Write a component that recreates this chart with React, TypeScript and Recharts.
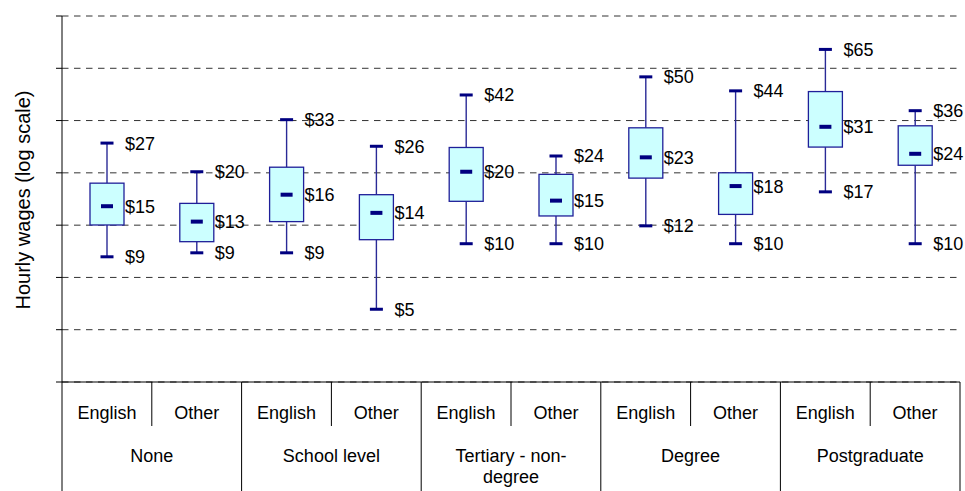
import { ComposedChart, Bar, XAxis, YAxis, CartesianGrid } from 'recharts'

// education groups and language spoken at home
const groups = ['None', 'School level', 'Tertiary - non-degree', 'Degree', 'Postgraduate']
const languages = ['English', 'Other']

// hourly wages ($), one entry per group x language
const minWage = [9.0, 9.35, 9.35, 5.45, 10.2, 10.2, 12.1, 10.2, 16.75, 10.2]
const q1Wage = [12.2, 10.4, 12.6, 10.6, 15.3, 13.3, 19.1, 13.5, 25.7, 21.6]
const medianWage = [14.6, 12.6, 16.3, 13.7, 20.3, 15.4, 23.3, 17.7, 31.2, 24.1]
const q3Wage = [18.2, 15.0, 21.2, 16.3, 25.6, 19.8, 30.9, 20.1, 43.7, 31.5]
const maxWage = [26.7, 20.3, 33.4, 25.9, 42.3, 23.6, 50.3, 44.0, 65.4, 36.4]

// gridlines every 0.5 of ln(wage), from 1.0 to 4.5
const yTicks = [2.718, 4.482, 7.389, 12.18, 20.09, 33.12, 54.6, 90.02]

const rows = groups.flatMap((group, gi) =>
  languages.map((lang, li) => {
    const i = gi * 2 + li
    return {
      key: `${group}-${lang}`,
      group,
      lang,
      min: minWage[i],
      q1: q1Wage[i],
      median: medianWage[i],
      q3: q3Wage[i],
      max: maxWage[i],
    }
  })
)

const W = 965
const H = 491
const MARGIN = { top: 16, right: 5, bottom: 0, left: 0 }
const Y_AXIS_W = 62
const X_AXIS_H = 109
const AXIS_Y = H - MARGIN.bottom - X_AXIS_H
const BAND = (W - MARGIN.left - MARGIN.right - Y_AXIS_W) / rows.length
const FONT = '"Liberation Sans", Arial, sans-serif'

const wrapGroup = (s: string) => {
  if (s.length <= 14) return [s]
  const cut = s.lastIndexOf('-') + 1
  return [s.slice(0, cut), s.slice(cut)]
}

function BoxShape(props: any) {
  const { x, y, width, height, payload } = props
  const top = Math.min(y, y + height)
  const bot = Math.max(y, y + height)
  const lo = Math.log(payload.min)
  const hi = Math.log(payload.max)
  const py = (v: number) => bot - ((Math.log(v) - lo) / (hi - lo)) * (bot - top)
  const cx = x + width / 2
  const yq1 = py(payload.q1)
  const yq3 = py(payload.q3)
  const ymed = py(payload.median)
  const lx = x + width + 1
  const label = (v: number, yy: number) => (
    <text x={lx} y={yy} dy="0.36em" fontSize={18} fontFamily={FONT} fill="#000">
      {`$${Math.round(v)}`}
    </text>
  )
  return (
    <g>
      <line x1={cx} x2={cx} y1={top} y2={yq3} stroke="#2a2a96" strokeWidth={1.4} />
      <line x1={cx} x2={cx} y1={yq1} y2={bot} stroke="#2a2a96" strokeWidth={1.4} />
      <rect x={cx - 6.5} y={top - 1.5} width={13} height={3} fill="#000080" />
      <rect x={cx - 6.5} y={bot - 1.5} width={13} height={3} fill="#000080" />
      <rect x={x} y={yq3} width={width} height={yq1 - yq3} fill="#ccffff" stroke="#1f1f99" strokeWidth={1.3} />
      <rect x={cx - 6} y={ymed - 2} width={12} height={4} fill="#000080" />
      {label(payload.max, top)}
      {label(payload.median, ymed)}
      {label(payload.min, bot)}
    </g>
  )
}

function CategoryTick(props: any) {
  const { x, index } = props
  const row = rows[index]
  const half = BAND / 2
  const line = (lx: number, len: number) => (
    <line x1={lx} x2={lx} y1={AXIS_Y} y2={AXIS_Y + len} stroke="#000" strokeWidth={1} />
  )
  return (
    <g fontFamily={FONT} fontSize={18} fill="#000">
      <text x={x} y={AXIS_Y + 37} textAnchor="middle">
        {row.lang}
      </text>
      {index === 0 && line(x - half, X_AXIS_H)}
      {index % 2 === 0 ? line(x + half, 44) : line(x + half, X_AXIS_H)}
      {index % 2 === 1 &&
        wrapGroup(row.group).map((t, k) => (
          <text key={k} x={x - half} y={AXIS_Y + 80 + k * 21} textAnchor="middle">
            {t}
          </text>
        ))}
    </g>
  )
}

function YTitle(props: any) {
  const vb = props.viewBox || {}
  const cy = (vb.y ?? MARGIN.top) + (vb.height ?? AXIS_Y - MARGIN.top) / 2 + 1
  const cx = 30
  return (
    <text
      x={cx}
      y={cy}
      transform={`rotate(-90, ${cx}, ${cy})`}
      textAnchor="middle"
      fontSize={20}
      fontFamily={FONT}
      fill="#000"
    >
      Hourly wages (log scale)
    </text>
  )
}

export default function App() {
  return (
    <div style={{ position: 'absolute', left: 0, top: 0, width: W, height: H, background: '#fff' }}>
      <ComposedChart width={W} height={H} data={rows} margin={MARGIN}>
        <CartesianGrid horizontal vertical={false} stroke="#333" strokeDasharray="6.5 5.5" />
        <XAxis
          dataKey="key"
          type="category"
          interval={0}
          height={X_AXIS_H}
          tick={CategoryTick}
          tickLine={false}
          axisLine={{ stroke: '#000' }}
        />
        <YAxis
          type="number"
          scale="log"
          domain={[yTicks[0], yTicks[yTicks.length - 1]]}
          ticks={yTicks}
          allowDataOverflow
          width={Y_AXIS_W}
          tick={() => <g />}
          tickSize={6}
          tickLine={{ stroke: '#000' }}
          axisLine={{ stroke: '#000' }}
          label={{ content: YTitle }}
        />
        <Bar
          dataKey={(d: any) => [d.min, d.max]}
          barSize={34}
          shape={BoxShape}
          isAnimationActive={false}
        />
      </ComposedChart>
    </div>
  )
}
